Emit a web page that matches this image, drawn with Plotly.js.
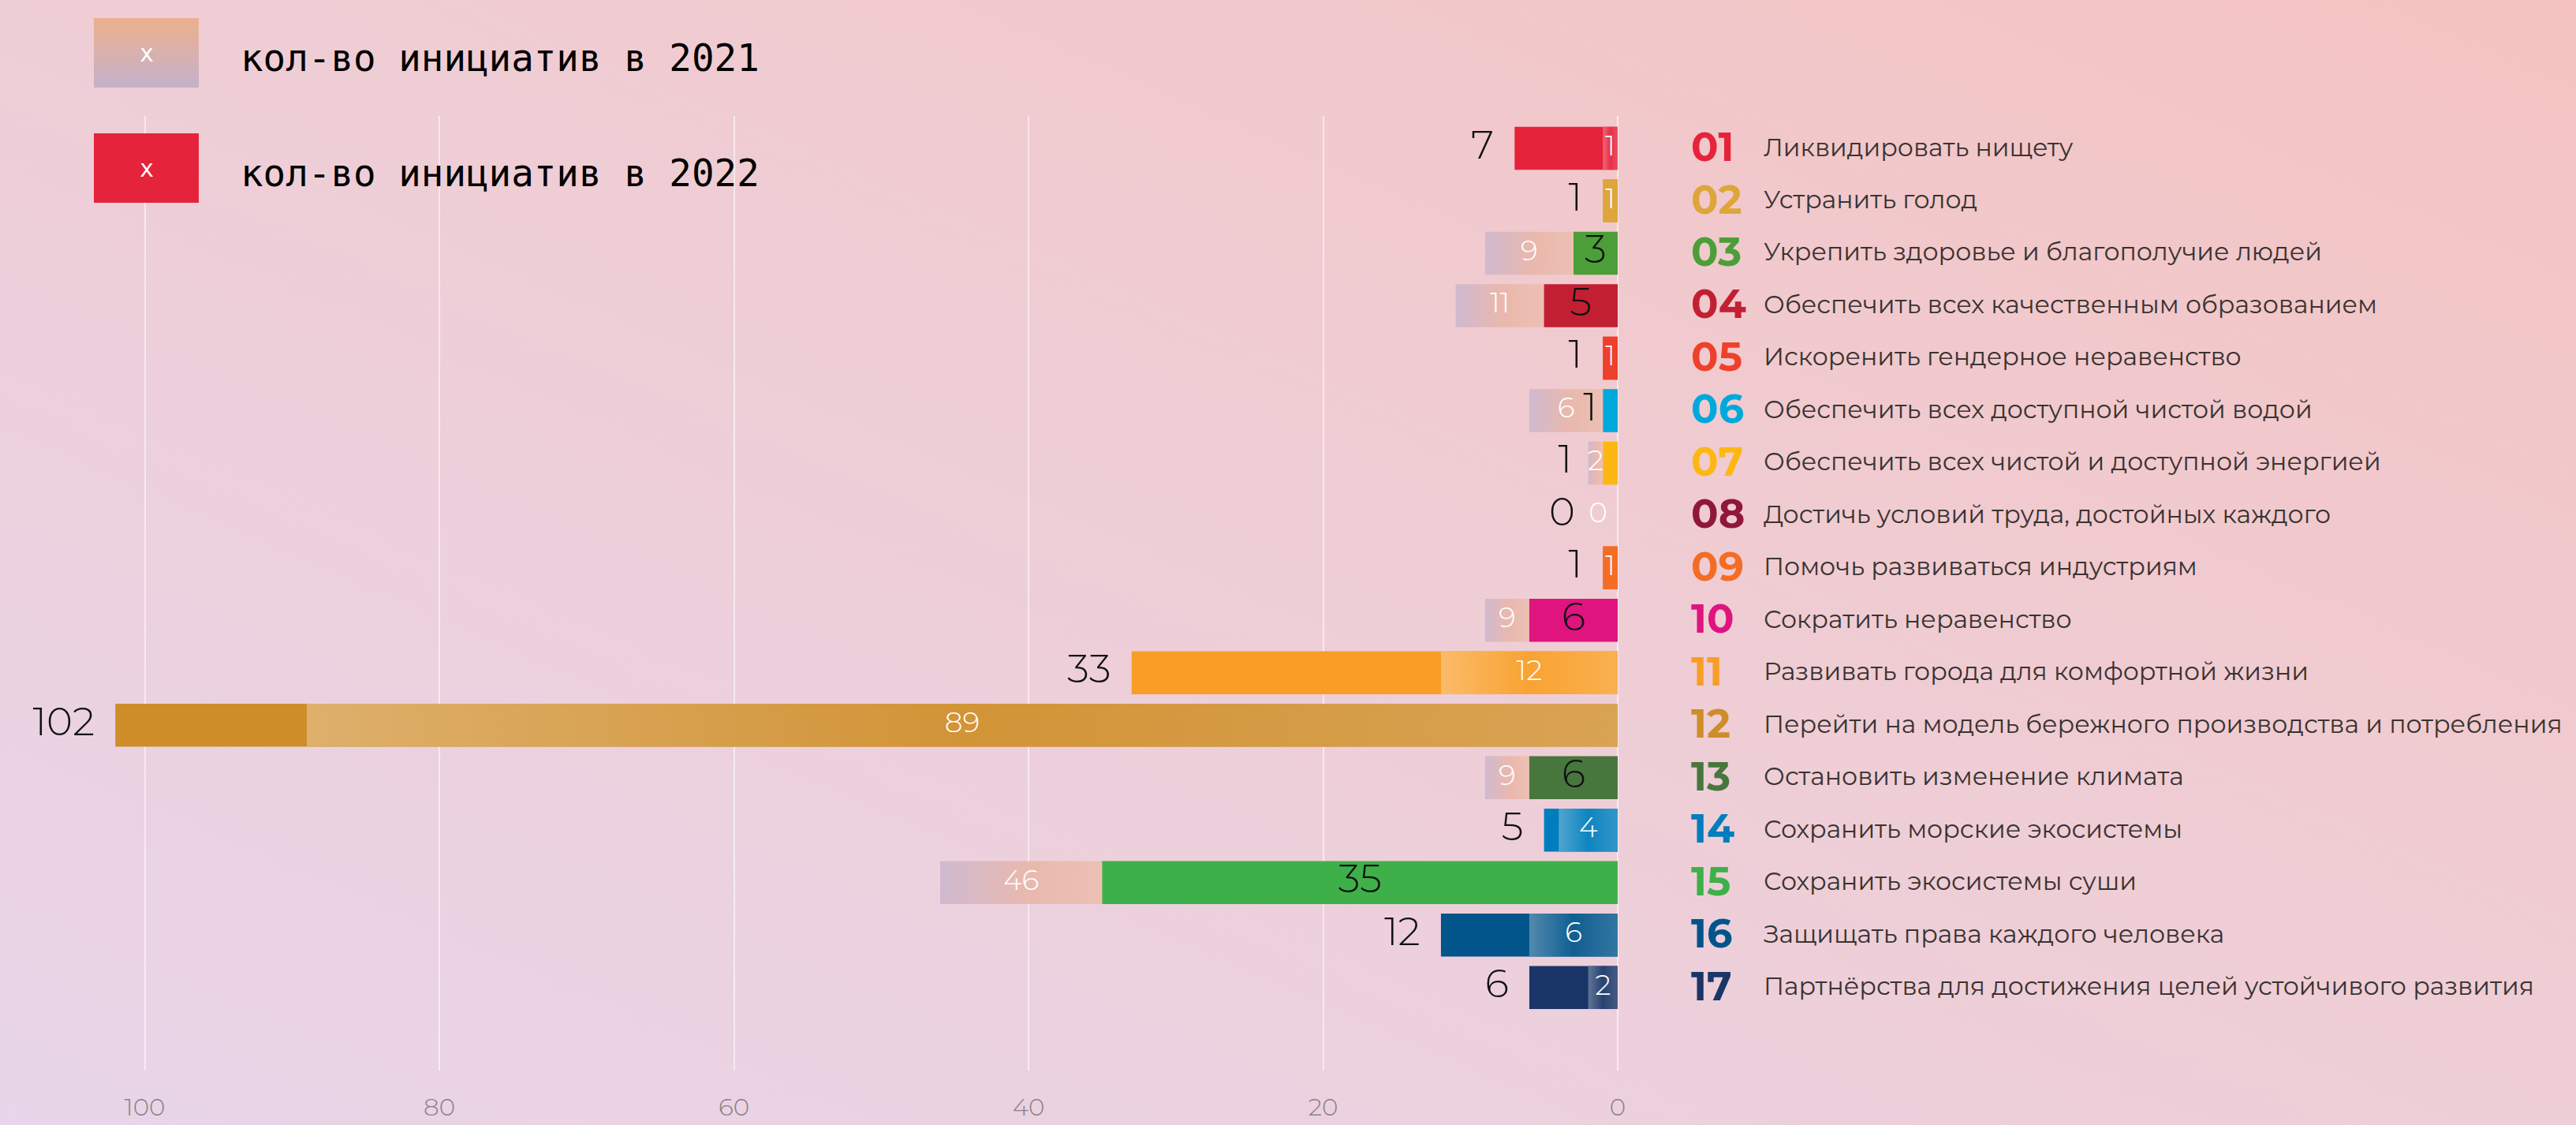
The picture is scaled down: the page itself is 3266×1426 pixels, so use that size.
<!DOCTYPE html>
<html>
<head>
<meta charset="utf-8">
<script src="https://cdn.plot.ly/plotly-3.0.1.min.js"></script>
<style>
html,body{margin:0;padding:0;}
body{width:3266px;height:1426px;overflow:hidden;
  background:linear-gradient(to bottom left,#f4c3c1 0%,#efcdd4 45%,#e8d5e9 100%);}
#chart{width:3266px;height:1426px;}
</style>
</head>
<body>
<div id="chart"></div>
<script>
// ---------- data ----------
const goalNumbers = ['01','02','03','04','05','06','07','08','09','10','11','12','13','14','15','16','17'];
const goalNames = [
  'Ликвидировать нищету',
  'Устранить голод',
  'Укрепить здоровье и благополучие людей',
  'Обеспечить всех качественным образованием',
  'Искоренить гендерное неравенство',
  'Обеспечить всех доступной чистой водой',
  'Обеспечить всех чистой и доступной энергией',
  'Достичь условий труда, достойных каждого',
  'Помочь развиваться индустриям',
  'Сократить неравенство',
  'Развивать города для комфортной жизни',
  'Перейти на модель бережного производства и потребления',
  'Остановить изменение климата',
  'Сохранить морские экосистемы',
  'Сохранить экосистемы суши',
  'Защищать права каждого человека',
  'Партнёрства для достижения целей устойчивого развития'
];
const initiatives2021 = [1, 1, 9, 11, 1, 6, 2, 0, 1, 9, 12, 89, 9, 4, 46, 6, 2];
const initiatives2022 = [7, 1, 3, 5, 1, 1, 1, 0, 1, 6, 33, 102, 6, 5, 35, 12, 6];
const goalColors = ['#e5243b','#dda63a','#4c9f38','#c31f33','#ef402b','#00a9db','#fdb713','#8f1838',
                    '#f36d25','#e0147f','#f99d26','#cf8d2a','#48773e','#007dbc','#3eb049','#02558b','#1a3668'];
const legendLabels = ['кол-во инициатив в 2021', 'кол-во инициатив в 2022'];
const xTickValues = [0, 20, 40, 60, 80, 100];

// ---------- helpers ----------
function hexToRgb(h){ h=h.replace('#',''); return [parseInt(h.substr(0,2),16),parseInt(h.substr(2,2),16),parseInt(h.substr(4,2),16)]; }
function tint(h, w, a){ const c=hexToRgb(h).map(v=>Math.round(v+(255-v)*w)); return 'rgba('+c.join(',')+','+a+')'; }

const HALF = 0.41;
const rows = goalNumbers.map((_, i) => i + 1);
const traces = [];
function barShape(v, y){ return {x:[0, v, v, 0, 0], y:[y-HALF, y-HALF, y+HALF, y+HALF, y-HALF]}; }
const base = {type:'scatter', mode:'lines', fill:'toself', line:{width:0}, hoverinfo:'skip', showlegend:false};

rows.forEach((y, i) => {
  const a = initiatives2021[i], b = initiatives2022[i], c = goalColors[i];
  const solid = Object.assign({}, base, barShape(b, y), {fillcolor:c, line:{width:0, color:c}, name:'2022 ' + goalNumbers[i]});
  if (a > b) {
    const grad = Object.assign({}, base, barShape(a, y), {name:'2021 ' + goalNumbers[i],
      fillgradient:{type:'horizontal', start:b, stop:a,
        colorscale:[[0,'rgba(237,191,178,0.92)'],[0.45,'rgba(233,182,168,0.9)'],[1,'rgba(205,184,208,0.92)']]}});
    traces.push(grad, solid);
  } else {
    const cs = a < b ? [[0, tint(c,0.2,0.97)],[0.5, tint(c,0.06,0.97)],[1, tint(c,0.32,0.97)]] : [[0,c],[1,c]];
    const grad = Object.assign({}, base, barShape(a, y), {name:'2021 ' + goalNumbers[i],
      fillgradient:{type:'horizontal', start:0, stop:Math.max(a, 1e-6), colorscale:cs}});
    traces.push(solid, grad);
  }
});

// ---------- value labels ----------
const wX = [], wPos = [], bX = [], bPos = [];
rows.forEach((y, i) => {
  const a = initiatives2021[i], b = initiatives2022[i];
  const visible = a <= b ? a : a - b;
  const whiteOutside = visible < 0.9;
  let wx, wp;
  if (whiteOutside) { wx = Math.max(a, b) + 0.7; wp = 'middle left'; }
  else if (a > b) { wx = (a + b) / 2; wp = 'middle center'; }
  else { wx = a / 2; wp = 'middle center'; }
  wX.push(wx); wPos.push(wp);
  let bx, bp;
  if (b >= a) {
    bx = whiteOutside ? wx + 2.2 : b + 1.4; bp = 'middle left';
  } else if (b >= 3) {
    bx = b / 2; bp = 'middle center';
  } else if (a - b < 3) {
    bx = a + 1.1; bp = 'middle left';
  } else {
    bx = b + 0.4; bp = 'middle left';
  }
  bX.push(bx); bPos.push(bp);
});
const numFont = 'Montserrat, "Open Sans", Lato, sans-serif';
traces.push({type:'scatter', mode:'text', x:wX, y:rows, text:initiatives2021.map(String), textposition:wPos,
  textfont:{family:numFont, size:36, color:'#ffffff', weight:300}, hoverinfo:'skip', showlegend:false, cliponaxis:false});
traces.push({type:'scatter', mode:'text', x:bX, y:rows, text:initiatives2022.map(String), textposition:bPos,
  textfont:{family:numFont, size:50, color:'#111111', weight:300}, hoverinfo:'skip', showlegend:false, cliponaxis:false});

// ---------- legend (pixel-space overlay axes) ----------
traces.push(Object.assign({}, base, {xaxis:'x2', yaxis:'y2', x:[119,252,252,119,119], y:[23,23,111,111,23],
  fillgradient:{type:'vertical', start:23, stop:111, colorscale:[[0,'#ecb08e'],[1,'#c5b1cb']]}}));
traces.push(Object.assign({}, base, {xaxis:'x2', yaxis:'y2', x:[119,252,252,119,119], y:[169,169,257,257,169],
  fillcolor:goalColors[0]}));

const annotations = [];
[67, 213].forEach((yy, k) => {
  annotations.push({xref:'x2', yref:'y2', x:185.5, y:yy, text:'x', showarrow:false,
    font:{family:'"DejaVu Sans Mono", monospace', size:30, color:'#ffffff'}});
  annotations.push({xref:'x2', yref:'y2', x:303, y:yy + 6, xanchor:'left', text:legendLabels[k], showarrow:false,
    font:{family:'"DejaVu Sans Mono", "Liberation Mono", monospace', size:47.5, color:'#000000'}});
});
rows.forEach((y, i) => {
  annotations.push({xref:'paper', yref:'y', x:2142/3266, y:y - 0.03, xanchor:'left', text:goalNumbers[i], showarrow:false,
    font:{family:numFont, size:51, color:goalColors[i], weight:700}});
  annotations.push({xref:'paper', yref:'y', x:2234/3266, y:y - 0.03, xanchor:'left', text:goalNames[i], showarrow:false,
    font:{family:numFont, size:31.6, color:'#3a3331', weight:400}});
});

const layout = {
  width:3266, height:1426,
  margin:{l:0, r:0, t:0, b:69, pad:0},
  paper_bgcolor:'rgba(0,0,0,0)', plot_bgcolor:'rgba(0,0,0,0)',
  showlegend:false, hovermode:false,
  xaxis:{domain:[0, 2051/3266], range:[109.83, 0], tickvals:xTickValues, ticks:'', showline:false,
    showgrid:true, gridcolor:'rgba(255,255,255,0.55)', gridwidth:2,
    zeroline:true, zerolinecolor:'rgba(255,255,255,0.6)', zerolinewidth:2,
    tickfont:{family:numFont, size:31, color:'#8c8088', weight:300}, ticklabelstandoff:25, fixedrange:true},
  yaxis:{domain:[0, 1 - 147/1357], range:[18.584, 0.383], showgrid:false, zeroline:false,
    showticklabels:false, ticks:'', showline:false, fixedrange:true},
  xaxis2:{domain:[0,1], range:[0,3266], visible:false, anchor:'y2', fixedrange:true},
  yaxis2:{domain:[0,1], range:[1357,0], visible:false, anchor:'x2', fixedrange:true},
  annotations:annotations
};

Plotly.newPlot('chart', traces, layout, {staticPlot:true, displayModeBar:false});
</script>
</body>
</html>
